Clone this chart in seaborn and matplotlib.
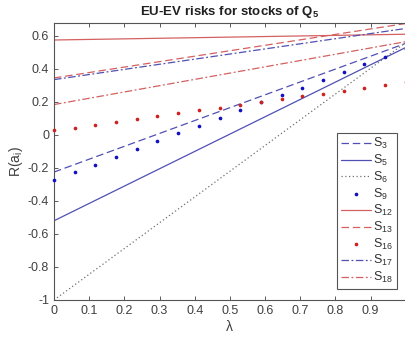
import numpy as np
import pandas as pd
import matplotlib
matplotlib.use("Agg")
import matplotlib.pyplot as plt
import seaborn as sns

sns.set_style("ticks")
plt.rcParams["font.family"] = ["Liberation Sans", "DejaVu Sans"]
plt.rcParams["mathtext.fontset"] = "custom"
plt.rcParams["mathtext.rm"] = "Liberation Sans"
plt.rcParams["mathtext.it"] = "Liberation Sans:italic"
plt.rcParams["mathtext.bf"] = "Liberation Sans:bold"
plt.rcParams["xtick.direction"] = "in"
plt.rcParams["ytick.direction"] = "in"

# lambda grid used for the point series
lam = np.linspace(0, 1, 18)

# linear risk curves: value at lambda = 0 and lambda = 1
lam_ends = [0.0, 1.0]
s3 = [-0.225, 0.555]
s5 = [-0.52, 0.53]
s6 = [-1.0, 0.56]
s12 = [0.575, 0.61]
s13 = [0.345, 0.675]
s17 = [0.335, 0.645]
s18 = [0.184, 0.565]

# point series
s9 = [-0.272, -0.224, -0.180, -0.132, -0.084, -0.038, 0.010, 0.056, 0.104,
      0.150, 0.197, 0.240, 0.286, 0.335, 0.383, 0.430, 0.474, 0.522]
s16 = [0.028, 0.044, 0.062, 0.080, 0.096, 0.114, 0.130, 0.148, 0.165,
       0.180, 0.198, 0.216, 0.234, 0.250, 0.268, 0.285, 0.303, 0.322]

xticks = [0, 0.1, 0.2, 0.3, 0.4, 0.5, 0.6, 0.7, 0.8, 0.9]
yticks = [-1, -0.8, -0.6, -0.4, -0.2, 0, 0.2, 0.4, 0.6]

BLUE_LINE = "#5050b4"
RED_LINE = "#d46060"
BLUE_DOT = "#1010c0"
RED_DOT = "#cc2222"
GREY = "#707070"

fig = plt.figure(figsize=(4.05, 3.38), dpi=100)
ax = fig.add_axes([54 / 405, 1 - 300 / 338, 1 - 54 / 405 + 0.002, (300 - 23) / 338])

series = [
    ("$\\mathregular{S_3}$", s3, BLUE_LINE, (0, (6, 3))),
    ("$\\mathregular{S_5}$", s5, BLUE_LINE, "-"),
    ("$\\mathregular{S_6}$", s6, GREY, (0, (1, 2))),
    ("$\\mathregular{S_9}$", None, BLUE_DOT, None),
    ("$\\mathregular{S_{12}}$", s12, RED_LINE, "-"),
    ("$\\mathregular{S_{13}}$", s13, RED_LINE, (0, (6, 3))),
    ("$\\mathregular{S_{16}}$", None, RED_DOT, None),
    ("$\\mathregular{S_{17}}$", s17, BLUE_LINE, (0, (6, 2, 1.5, 2))),
    ("$\\mathregular{S_{18}}$", s18, RED_LINE, (0, (6, 2, 1.5, 2))),
]

dots = {"$\\mathregular{S_9}$": s9, "$\\mathregular{S_{16}}$": s16}

for label, vals, color, ls in series:
    if vals is not None:
        df = pd.DataFrame({"lam": lam_ends, "R": vals})
        sns.lineplot(data=df, x="lam", y="R", ax=ax, color=color, linestyle=ls,
                     linewidth=0.9, label=label)
    else:
        df = pd.DataFrame({"lam": lam, "R": dots[label]})
        sns.scatterplot(data=df, x="lam", y="R", ax=ax, color=color, marker="o",
                        s=7, linewidth=0, label=label, clip_on=False, zorder=3)

ax.set_xlim(0, 1)
ax.set_ylim(-1, 0.678)
ax.set_xticks(xticks)
ax.set_xticklabels([f"{t:g}" for t in xticks])
ax.set_yticks(yticks)
ax.set_yticklabels([f"{t:g}" for t in yticks])
ax.tick_params(axis="both", labelsize=9, colors="#404040", length=3, width=0.6,
               top=True, right=False)
for side in ["left", "bottom", "top"]:
    ax.spines[side].set_color("#555555")
    ax.spines[side].set_linewidth(0.8)
ax.spines["right"].set_visible(False)

ax.set_xlabel("λ", fontsize=10, color="#404040", labelpad=2)
ax.set_ylabel("R(a$_\\mathregular{i}$)", fontsize=10, color="#404040", labelpad=2)
ax.set_title("EU-EV risks for stocks of $\\mathbf{Q_5}$", fontsize=9.5,
             fontweight="bold", color="#202020", pad=6)

leg = ax.legend(loc="lower right", bbox_to_anchor=(0.975, 0.04), fontsize=9,
                frameon=True, fancybox=False, framealpha=1, edgecolor="#555555",
                handlelength=2.4, handletextpad=0.2, labelspacing=0.13,
                borderpad=0.3, borderaxespad=0)
leg.get_frame().set_linewidth(0.8)
for txt in leg.get_texts():
    txt.set_color("#303030")

fig.savefig("out.png", dpi=100)
